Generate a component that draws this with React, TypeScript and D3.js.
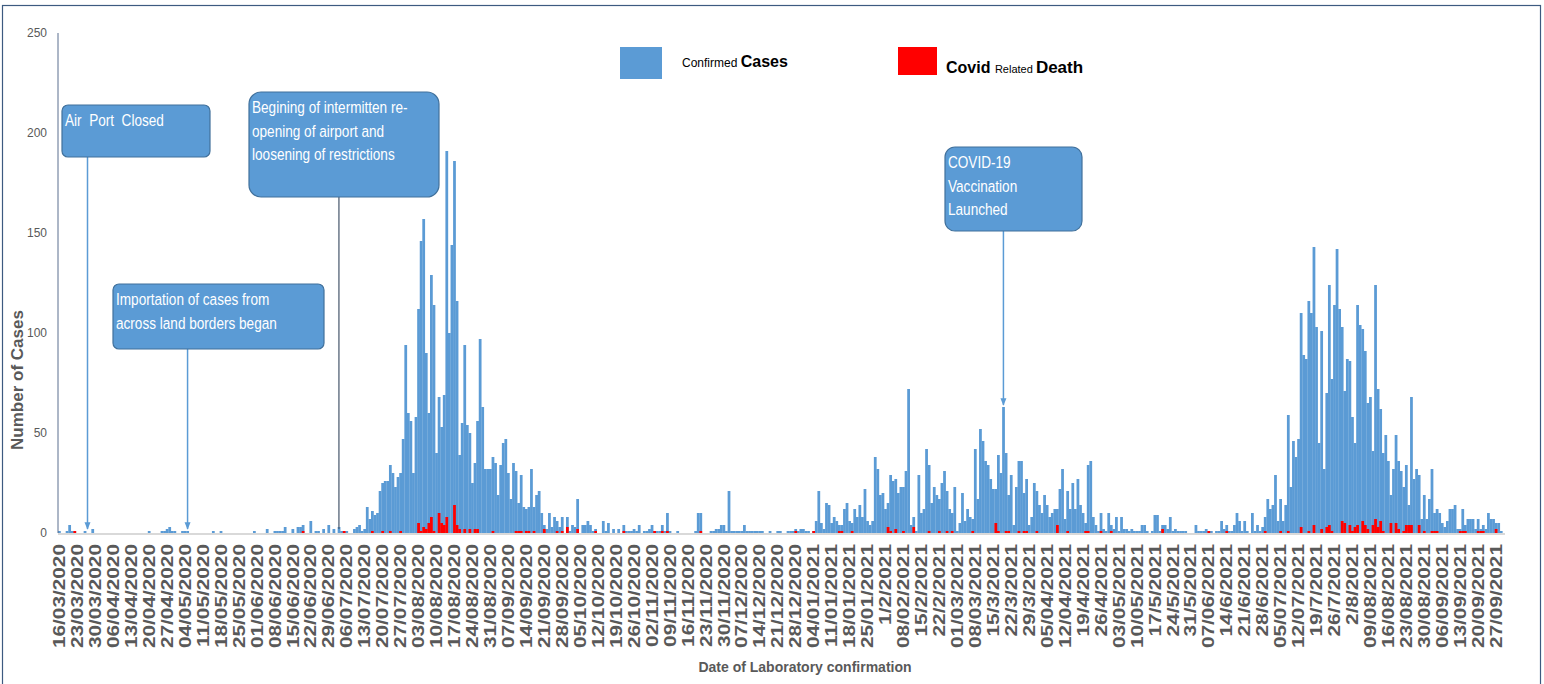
import * as d3 from "d3";
import { useEffect, useRef } from "react";

// daily confirmed cases, one row per week starting 16/03/2020
const CASES: number[][] = [
  [1, 0, 0, 1, 4, 1, 1],
  [0, 0, 0, 1, 0, 0, 2],
  [0, 0, 0, 0, 0, 0, 0],
  [0, 0, 0, 0, 0, 0, 0],
  [0, 0, 0, 0, 0, 0, 0],
  [1, 0, 0, 0, 0, 1, 1],
  [2, 3, 1, 1, 0, 0, 1],
  [1, 1, 0, 0, 0, 0, 0],
  [0, 0, 0, 0, 1, 0, 0],
  [1, 0, 0, 0, 0, 0, 0],
  [0, 0, 0, 0, 0, 0, 1],
  [0, 0, 0, 0, 2, 0, 0],
  [1, 1, 1, 1, 3, 0, 0],
  [2, 0, 3, 3, 4, 0, 0],
  [6, 0, 1, 1, 0, 2, 0],
  [4, 0, 2, 0, 3, 1, 1],
  [1, 0, 0, 2, 3, 4, 1],
  [2, 13, 7, 11, 9, 10, 21],
  [25, 26, 26, 34, 30, 23, 28],
  [30, 47, 94, 60, 56, 30, 58],
  [112, 146, 157, 90, 60, 129, 114],
  [40, 68, 53, 69, 191, 100, 144],
  [186, 116, 39, 55, 94, 54, 50],
  [25, 35, 56, 97, 63, 32, 32],
  [32, 38, 35, 19, 34, 45, 47],
  [30, 17, 35, 31, 15, 29, 13],
  [12, 13, 32, 13, 19, 21, 10],
  [4, 2, 10, 3, 8, 6, 3],
  [8, 0, 8, 1, 4, 3, 17],
  [0, 4, 4, 6, 4, 1, 2],
  [0, 0, 6, 1, 5, 0, 2],
  [0, 2, 0, 4, 1, 1, 1],
  [2, 1, 4, 0, 1, 1, 2],
  [4, 1, 1, 1, 4, 1, 10],
  [1, 0, 0, 1, 0, 0, 0],
  [0, 0, 0, 1, 10, 10, 0],
  [0, 0, 1, 1, 2, 2, 4],
  [4, 1, 21, 1, 1, 1, 1],
  [1, 4, 1, 1, 1, 1, 1],
  [1, 1, 0, 0, 1, 0, 0],
  [1, 1, 0, 0, 1, 1, 1],
  [2, 1, 2, 2, 1, 1, 0],
  [1, 6, 21, 5, 2, 15, 14],
  [5, 8, 6, 4, 4, 12, 15],
  [6, 5, 12, 8, 14, 8, 22],
  [6, 4, 6, 38, 32, 19, 20],
  [12, 15, 29, 26, 27, 20, 23],
  [23, 31, 72, 4, 8, 1, 29],
  [10, 12, 42, 34, 15, 23, 19],
  [17, 25, 31, 21, 12, 10, 23],
  [1, 5, 20, 6, 12, 8, 7],
  [42, 17, 52, 46, 36, 34, 27],
  [22, 22, 39, 30, 63, 40, 19],
  [29, 4, 23, 36, 36, 20, 27],
  [4, 8, 25, 21, 14, 10, 19],
  [14, 8, 10, 12, 12, 22, 32],
  [7, 21, 12, 25, 12, 27, 14],
  [10, 5, 34, 36, 8, 4, 1],
  [10, 2, 1, 10, 4, 2, 8],
  [1, 8, 2, 2, 1, 2, 1],
  [1, 1, 4, 4, 1, 0, 1],
  [9, 9, 1, 4, 4, 2, 8],
  [1, 2, 1, 1, 1, 1, 0],
  [0, 0, 4, 1, 1, 1, 2],
  [1, 1, 0, 1, 1, 6, 2],
  [4, 1, 1, 4, 10, 6, 1],
  [6, 1, 0, 10, 1, 4, 1],
  [3, 8, 17, 12, 14, 29, 6],
  [17, 6, 14, 59, 23, 46, 38],
  [47, 110, 89, 87, 116, 110, 143],
  [103, 45, 101, 32, 70, 124, 77],
  [114, 142, 112, 103, 71, 87, 86],
  [58, 45, 114, 104, 102, 91, 65],
  [68, 41, 124, 72, 62, 40, 49],
  [36, 19, 32, 49, 36, 31, 23],
  [34, 14, 68, 27, 32, 29, 7],
  [19, 7, 17, 32, 10, 12, 10],
  [5, 3, 6, 12, 12, 14, 2],
  [2, 12, 4, 7, 7, 7, 2],
  [7, 2, 4, 2, 10, 7, 7],
  [5, 5, 1, 0],
];

// covid related deaths: [day index from 16/03/2020, count]
const DEATHS: [number, number][] = [
  [6, 1], [95, 1], [111, 1], [122, 1], [126, 1], [129, 1], [133, 1],
  [140, 5], [141, 1], [142, 3], [143, 2], [144, 5], [145, 8], [146, 1],
  [148, 10], [149, 5], [150, 4], [151, 8], [154, 14], [155, 4], [156, 2],
  [158, 2], [160, 2], [162, 2], [163, 2], [169, 1], [178, 1], [179, 1],
  [180, 1], [182, 1], [183, 1], [185, 1], [189, 2], [194, 1], [196, 1],
  [198, 3], [202, 2], [209, 1], [220, 1], [232, 1], [235, 1], [237, 1],
  [250, 1], [287, 1], [294, 1], [304, 1], [305, 1], [309, 1], [323, 3],
  [324, 1], [326, 2], [329, 1], [333, 3], [339, 1], [343, 1], [346, 1],
  [348, 1], [356, 1], [365, 5], [366, 1], [369, 1], [370, 1], [374, 1],
  [376, 1], [377, 1], [381, 1], [389, 4], [393, 1], [400, 1], [401, 1],
  [406, 1], [410, 1], [430, 2], [448, 1], [455, 1], [470, 1], [476, 1],
  [479, 1], [484, 3], [487, 1], [489, 4], [492, 2], [494, 3], [495, 4],
  [496, 1], [500, 6], [501, 5], [503, 4], [504, 1], [505, 3], [506, 4],
  [508, 6], [509, 4], [510, 2], [512, 4], [513, 7], [514, 3], [515, 6],
  [516, 1], [519, 5], [521, 5], [522, 2], [524, 1], [525, 4], [526, 4],
  [527, 4], [530, 4], [532, 1], [535, 1], [536, 1], [537, 1], [546, 1],
  [547, 1], [548, 1], [553, 1], [554, 1], [555, 1], [560, 2],
];

// weekly tick labels, as written on the chart
const TICK_LABELS = [
  "16/03/2020", "23/03/2020", "30/03/2020", "06/04/2020", "13/04/2020", "20/04/2020",
  "27/04/2020", "04/05/2020", "11/05/2020", "18/05/2020", "25/05/2020", "01/06/2020",
  "08/06/2020", "15/06/2020", "22/06/2020", "29/06/2020", "06/07/2020", "13/07/2020",
  "20/07/2020", "27/07/2020", "03/08/2020", "10/08/2020", "17/08/2020", "24/08/2020",
  "31/08/2020", "07/09/2020", "14/09/2020", "21/09/2020", "28/09/2020", "05/10/2020",
  "12/10/2020", "19/10/2020", "26/10/2020", "02/11/2020", "09/11/2020", "16/11/2020",
  "23/11/2020", "30/11/2020", "07/12/2020", "14/12/2020", "21/12/2020", "28/12/2020",
  "04/01/2021", "11/01/2021", "18/01/2021", "25/01/2021", "1/2/2021", "08/02/2021",
  "15/2/2021", "22/2/2021", "01/03/2021", "08/03/2021", "15/3/2021", "22/3/2021",
  "29/3/2021", "05/04/2021", "12/04/2021", "19/4/2021", "26/4/2021", "03/05/2021",
  "10/05/2021", "17/5/2021", "24/5/2021", "31/5/2021", "07/06/2021", "14/6/2021",
  "21/6/2021", "28/6/2021", "05/07/2021", "12/07/2021", "19/7/2021", "26/7/2021",
  "2/8/2021", "09/08/2021", "16/08/2021", "23/08/2021", "30/08/2021", "06/09/2021",
  "13/09/2021", "20/09/2021", "27/09/2021",
];

const Y_TICKS = [0, 50, 100, 150, 200, 250];

// call-out boxes: text lines and the day index the arrow points at
const NOTES = [
  { lines: ["Air  Port  Closed"], day: 11, box: [62, 105, 148, 52], rx: 6, arrow: true },
  { lines: ["Importation of cases from", "across land borders began"], day: 50, box: [113, 284, 211, 65], rx: 6, arrow: true },
  { lines: ["Begining of intermitten re-", "opening of airport and", "loosening of restrictions"], day: 109, box: [249, 92, 190, 105], rx: 12, arrow: false },
  { lines: ["COVID-19", "Vaccination", "Launched"], day: 368, box: [945, 147, 137, 84], rx: 10, arrow: true },
];

const BLUE = "#5b9bd5";
const RED = "#ff0000";
const GREY = "#595959";
const ARIAL = "'Liberation Sans', Arial, sans-serif";

export default function App() {
  const ref = useRef<SVGSVGElement | null>(null);

  useEffect(() => {
    document.body.style.margin = "0";
    const svg = d3.select(ref.current);
    svg.selectAll("*").remove();

    const cases = CASES.flat();
    const left = 58, right = 1505, top = 33, bottom = 533;

    const x = d3.scaleBand<number>().domain(d3.range(cases.length)).range([left, right]).padding(0);
    const y = d3.scaleLinear().domain([0, 250]).range([bottom, top]);
    const bw = x.bandwidth();

    // frame
    svg.append("rect")
      .attr("x", 2.5).attr("y", 5.5).attr("width", 1538).attr("height", 700)
      .attr("fill", "none").attr("stroke", "#3d5a80").attr("stroke-width", 1.2);

    const defs = svg.append("defs");
    defs.append("marker")
      .attr("id", "arrow").attr("viewBox", "0 0 10 10").attr("refX", 9).attr("refY", 5)
      .attr("markerWidth", 5).attr("markerHeight", 5).attr("orient", "auto")
      .append("path").attr("d", "M0,1 L10,5 L0,9 z").attr("fill", BLUE);

    // bars
    svg.append("g").selectAll("rect")
      .data(cases.map((v, i) => [i, v] as [number, number]).filter((d) => d[1] > 0))
      .join("rect")
      .attr("x", (d) => x(d[0])!)
      .attr("y", (d) => y(d[1]))
      .attr("width", bw + 0.2)
      .attr("height", (d) => bottom - y(d[1]))
      .attr("fill", BLUE);

    svg.append("g").selectAll("rect")
      .data(DEATHS)
      .join("rect")
      .attr("x", (d) => x(d[0])!)
      .attr("y", (d) => y(d[1]))
      .attr("width", bw + 0.2)
      .attr("height", (d) => bottom - y(d[1]))
      .attr("fill", RED);

    // axes
    svg.append("line")
      .attr("x1", left).attr("x2", right).attr("y1", bottom + 1).attr("y2", bottom + 1)
      .attr("stroke", "#d9d9d9").attr("stroke-width", 2);
    svg.append("line")
      .attr("x1", left).attr("x2", left).attr("y1", top).attr("y2", bottom)
      .attr("stroke", "#5a6f8f").attr("stroke-width", 1);

    svg.append("g").selectAll("text")
      .data(Y_TICKS)
      .join("text")
      .attr("x", 47).attr("y", (d) => y(d))
      .attr("dy", "0.35em")
      .attr("text-anchor", "end")
      .attr("font-family", ARIAL).attr("font-size", 12).attr("fill", GREY)
      .text((d) => d);

    svg.append("g").selectAll("text")
      .data(TICK_LABELS)
      .join("text")
      .attr("transform", (_, i) => `translate(${x(i * 7)! + bw / 2},${bottom + 11}) rotate(-90) scale(1.3,1)`)
      .attr("dy", "0.36em")
      .attr("text-anchor", "end")
      .attr("font-family", ARIAL).attr("font-size", 16).attr("font-weight", "bold").attr("fill", GREY)
      .text((d) => d);

    svg.append("text")
      .attr("transform", `translate(17,380) rotate(-90)`)
      .attr("dy", "0.35em")
      .attr("text-anchor", "middle")
      .attr("font-family", ARIAL).attr("font-size", 17).attr("font-weight", "bold").attr("fill", GREY)
      .text("Number of Cases");

    svg.append("text")
      .attr("x", 805).attr("y", 672)
      .attr("text-anchor", "middle")
      .attr("font-family", ARIAL).attr("font-size", 14).attr("font-weight", "bold").attr("fill", GREY)
      .text("Date of Laboratory confirmation");

    // legend
    const legend = svg.append("g").attr("font-family", ARIAL).attr("fill", "#000");
    legend.append("rect").attr("x", 620).attr("y", 47).attr("width", 42).attr("height", 32).attr("fill", BLUE);
    const t1 = legend.append("text").attr("x", 682).attr("y", 67);
    t1.append("tspan").attr("font-size", 12).text("Confirmed ");
    t1.append("tspan").attr("font-size", 16).attr("font-weight", "bold").text("Cases");
    legend.append("rect").attr("x", 898).attr("y", 47).attr("width", 39).attr("height", 28).attr("fill", RED);
    const t2 = legend.append("text").attr("x", 946).attr("y", 73);
    t2.append("tspan").attr("font-size", 16).attr("font-weight", "bold").text("Covid ");
    t2.append("tspan").attr("font-size", 11).text("Related ");
    t2.append("tspan").attr("font-size", 17).attr("font-weight", "bold").text("Death");

    // call-outs
    NOTES.forEach((n) => {
      const [bx, by, w, h] = n.box;
      const cx = x(n.day)! + bw / 2;
      const tipY = n.day === 368 ? y(cases[n.day]) - 2 : bottom - 4;
      const g = svg.append("g");
      g.append("line")
        .attr("x1", cx).attr("x2", cx).attr("y1", by + h).attr("y2", tipY)
        .attr("stroke", n.arrow ? BLUE : "#44546a").attr("stroke-width", n.arrow ? 1.5 : 1.2)
        .attr("marker-end", n.arrow ? "url(#arrow)" : null);
      g.append("rect")
        .attr("x", bx).attr("y", by).attr("width", w).attr("height", h).attr("rx", n.rx)
        .attr("fill", BLUE).attr("stroke", "#41719c").attr("stroke-width", 1.2);
      // condensed look of the original narrow typeface
      g.append("g").selectAll("text")
        .data(n.lines)
        .join("text")
        .attr("transform", (_, i) => `translate(${bx + 3},${by + 21 + i * 23.5}) scale(0.8,1)`)
        .attr("font-family", ARIAL).attr("font-size", 17).attr("fill", "#fff")
        .style("white-space", "pre")
        .text((d) => d);
    });
  }, []);

  return <svg ref={ref} width={1544} height={684} style={{ display: "block" }} />;
}
